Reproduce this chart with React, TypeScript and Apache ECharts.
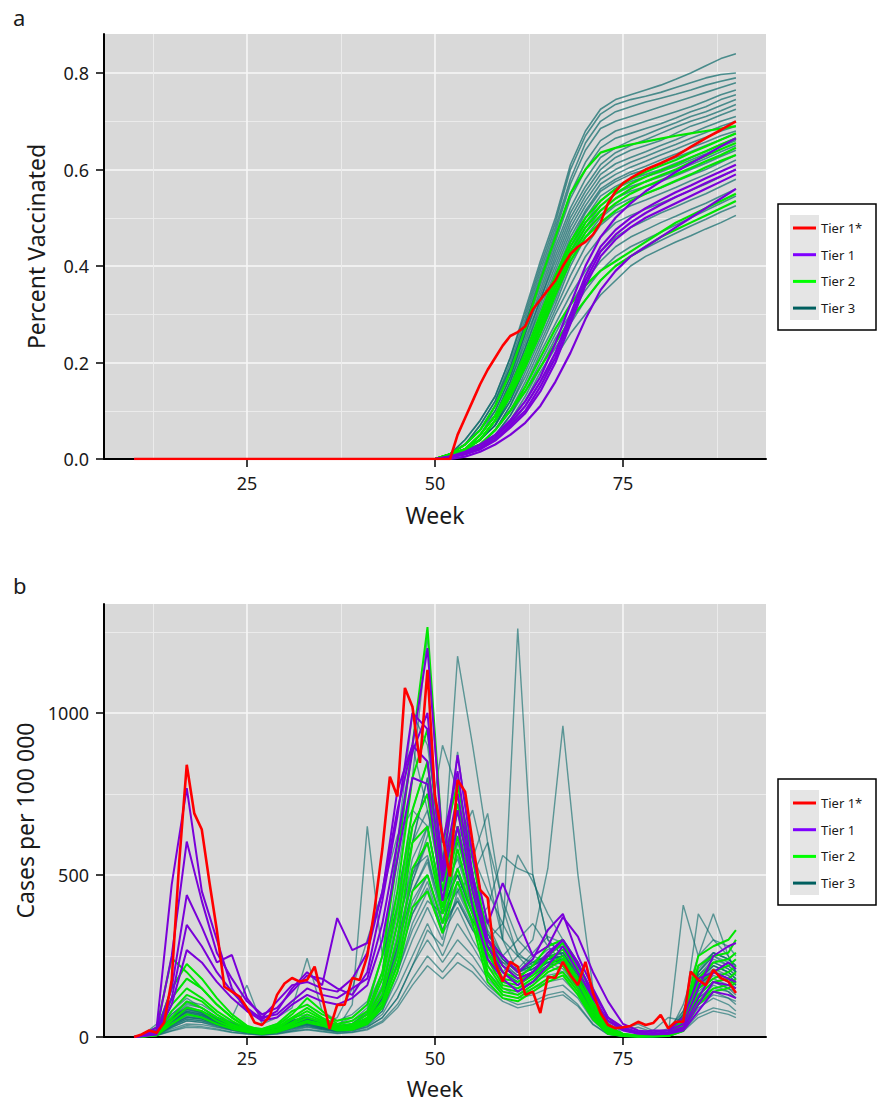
import React, { useEffect, useRef } from 'react';
import * as echarts from 'echarts';

// ---------- axis / legend definitions ----------
const X_TICKS = [25, 50, 75];
const X_MINOR = [12.5, 37.5, 62.5, 87.5];
const VAX_Y_TICKS = [0, 0.2, 0.4, 0.6, 0.8];
const VAX_Y_MINOR = [0.1, 0.3, 0.5, 0.7];
const CASE_Y_TICKS = [0, 500, 1000];
const CASE_Y_MINOR = [250, 750, 1250];
const TIERS = ['Tier 1*', 'Tier 1', 'Tier 2', 'Tier 3'];

// ---------- panel a: percent vaccinated ----------
const VAX_WEEKS = [10, 50, 52, 54, 56, 58, 60, 62, 64, 66, 68, 70, 72, 74, 76, 78, 80, 82, 84, 86, 88, 90];

const VAX_RED_WEEKS = [10, 52, 53, 54, 55, 56, 57, 58, 59, 60, 61, 62, 63, 64, 65, 66, 67, 68, 69, 70, 71, 72, 73, 74, 75, 76, 78, 80, 82, 84, 86, 88, 90];
const VAX_RED = [0, 0, .05, .085, .12, .155, .185, .21, .235, .255, .263, .275, .31, .33, .35, .37, .40, .425, .44, .45, .465, .49, .53, .555, .572, .582, .60, .613, .628, .647, .665, .682, .70];

const VAX_TIER1 = [
  [0, 0, .005, .015, .03, .05, .08, .12, .17, .24, .32, .40, .46, .50, .53, .555, .575, .595, .613, .63, .648, .665],
  [0, 0, .005, .012, .025, .045, .075, .11, .16, .22, .30, .38, .44, .475, .50, .52, .537, .553, .567, .582, .596, .61],
  [0, 0, .005, .01, .022, .04, .07, .10, .15, .21, .29, .37, .43, .465, .49, .51, .527, .543, .557, .572, .586, .60],
  [0, 0, .003, .01, .02, .038, .065, .095, .14, .20, .28, .36, .42, .455, .48, .50, .515, .53, .545, .56, .575, .59],
  [0, 0, 0, .005, .015, .03, .05, .075, .11, .16, .22, .29, .35, .39, .42, .44, .46, .48, .50, .52, .54, .56],
];

const VAX_TIER2 = [
  [0, 0, .01, .03, .06, .11, .18, .27, .37, .46, .55, .60, .635, .645, .652, .658, .664, .67, .675, .68, .685, .69],
  [0, 0, .01, .02, .05, .09, .15, .22, .30, .38, .45, .50, .535, .56, .58, .595, .608, .62, .635, .648, .662, .675],
  [0, 0, .01, .02, .05, .09, .14, .21, .29, .37, .44, .49, .525, .55, .57, .585, .598, .61, .625, .638, .652, .665],
  [0, 0, .01, .02, .04, .08, .14, .20, .28, .36, .43, .48, .515, .54, .56, .575, .588, .60, .615, .628, .642, .655],
  [0, 0, .01, .02, .04, .08, .13, .20, .27, .35, .42, .47, .505, .53, .55, .565, .578, .59, .603, .617, .63, .645],
  [0, 0, .01, .02, .04, .08, .13, .19, .26, .34, .41, .46, .49, .515, .535, .55, .563, .577, .59, .605, .618, .63],
  [0, 0, .005, .015, .03, .06, .10, .15, .21, .27, .32, .36, .39, .41, .43, .45, .47, .49, .505, .52, .535, .55],
  [0, 0, .005, .015, .03, .06, .10, .14, .19, .24, .29, .33, .37, .40, .42, .44, .46, .475, .49, .505, .52, .535],
];

const VAX_TIER3 = [
  [0, 0, .01, .04, .08, .13, .21, .31, .41, .50, .61, .68, .725, .745, .755, .765, .775, .787, .80, .815, .83, .84],
  [0, 0, .01, .04, .08, .13, .21, .30, .40, .49, .60, .67, .715, .735, .745, .752, .76, .77, .78, .79, .797, .80],
  [0, 0, .01, .03, .07, .12, .20, .29, .39, .48, .58, .655, .70, .72, .73, .74, .748, .756, .765, .775, .783, .79],
  [0, 0, .01, .03, .07, .12, .19, .28, .38, .47, .57, .64, .685, .70, .71, .72, .73, .74, .75, .76, .77, .78],
  [0, 0, .01, .03, .06, .11, .19, .28, .37, .46, .55, .615, .66, .68, .69, .70, .71, .72, .73, .742, .755, .765],
  [0, 0, .01, .03, .06, .11, .18, .27, .36, .45, .54, .60, .645, .665, .675, .685, .695, .707, .72, .73, .745, .755],
  [0, 0, .01, .03, .06, .10, .17, .26, .35, .44, .52, .58, .625, .645, .66, .672, .685, .697, .71, .72, .733, .745],
  [0, 0, .01, .02, .05, .10, .17, .26, .34, .43, .51, .565, .61, .635, .65, .662, .675, .688, .70, .71, .722, .735],
  [0, 0, .01, .02, .05, .09, .16, .25, .33, .42, .50, .555, .60, .625, .64, .65, .66, .675, .69, .70, .713, .725],
  [0, 0, .01, .02, .05, .09, .16, .24, .33, .41, .49, .545, .59, .612, .625, .637, .65, .662, .675, .688, .70, .71],
  [0, 0, .01, .02, .05, .09, .15, .23, .32, .40, .48, .535, .58, .60, .615, .627, .64, .652, .665, .677, .69, .70],
  [0, 0, .01, .02, .04, .08, .15, .23, .31, .39, .47, .525, .57, .59, .605, .617, .63, .642, .655, .667, .68, .69],
  [0, 0, .01, .02, .04, .08, .14, .22, .30, .38, .46, .515, .56, .58, .595, .607, .62, .632, .645, .657, .67, .68],
  [0, 0, .01, .02, .04, .08, .14, .21, .29, .37, .45, .51, .555, .575, .59, .60, .612, .625, .637, .65, .662, .675],
  [0, 0, .01, .02, .04, .07, .13, .20, .28, .36, .44, .50, .545, .565, .58, .59, .60, .613, .625, .638, .652, .665],
  [0, 0, .01, .02, .04, .07, .13, .20, .28, .35, .43, .49, .535, .56, .575, .585, .595, .607, .62, .633, .647, .66],
  [0, 0, .01, .02, .04, .07, .12, .19, .27, .34, .42, .48, .525, .55, .565, .575, .585, .597, .61, .623, .637, .65],
  [0, 0, .01, .02, .04, .07, .12, .19, .26, .33, .41, .47, .515, .54, .555, .565, .575, .587, .60, .613, .627, .64],
  [0, 0, .005, .02, .03, .06, .11, .18, .25, .32, .40, .46, .50, .525, .54, .55, .562, .575, .588, .60, .615, .63],
  [0, 0, .005, .02, .03, .06, .11, .17, .24, .31, .38, .44, .485, .51, .525, .537, .55, .563, .577, .59, .605, .62],
  [0, 0, .005, .015, .03, .06, .10, .16, .23, .30, .36, .42, .46, .49, .505, .518, .53, .543, .557, .57, .585, .60],
  [0, 0, .005, .015, .03, .05, .09, .15, .22, .28, .34, .39, .43, .46, .48, .495, .51, .523, .537, .55, .565, .58],
  [0, 0, .005, .015, .03, .05, .09, .14, .20, .26, .32, .37, .41, .44, .46, .475, .49, .503, .517, .53, .545, .56],
  [0, 0, .005, .01, .025, .05, .08, .13, .19, .25, .30, .35, .39, .42, .44, .455, .47, .485, .50, .515, .53, .545],
  [0, 0, .005, .01, .02, .045, .08, .12, .18, .23, .28, .33, .37, .40, .42, .437, .453, .468, .483, .497, .512, .525],
  [0, 0, .005, .01, .02, .04, .07, .11, .16, .21, .26, .30, .34, .37, .40, .42, .435, .45, .463, .477, .49, .505],
];

// ---------- panel b: cases per 100 000 ----------
const CASE_RED_FIRST_WEEK = 10;
const CASE_RED = [
  0, 8, 20, 13, 45, 176, 540, 840, 690, 640,
  480, 330, 155, 140, 125, 90, 45, 37, 63, 130,
  165, 182, 171, 176, 217, 124, 25, 99, 100, 182,
  176, 250, 400, 580, 803, 742, 1077, 1019, 846, 1133,
  742, 620, 495, 793, 757, 600, 454, 429, 228, 171,
  232, 217, 130, 140, 74, 186, 182, 232, 191, 160,
  232, 136, 74, 37, 27, 30, 34, 47, 37, 43,
  68, 27, 47, 47, 202, 176, 160, 207, 182, 171,
  136,
];

const CASE_WEEKS = [10, 11, 13, 15, 17, 19, 21, 23, 25, 27, 29, 31, 33, 35, 37, 39, 41, 43, 45, 47, 49, 51, 53, 55, 57, 59, 61, 63, 65, 67, 69, 71, 73, 75, 77, 79, 81, 83, 85, 87, 89, 90];

const CASE_TIER1 = [
  [0, 5, 30, 470, 768, 450, 300, 150, 80, 60, 110, 160, 170, 150, 140, 180, 260, 450, 700, 900, 1200, 600, 820, 500, 300, 220, 180, 200, 260, 300, 230, 120, 50, 25, 15, 20, 20, 60, 180, 200, 230, 210],
  [0, 5, 20, 250, 603, 420, 260, 180, 110, 70, 90, 140, 190, 180, 150, 130, 200, 420, 680, 1000, 950, 520, 870, 560, 350, 475, 360, 250, 280, 370, 310, 200, 110, 40, 20, 15, 20, 40, 150, 250, 280, 290],
  [0, 3, 15, 150, 438, 340, 230, 253, 120, 60, 70, 110, 150, 130, 120, 150, 180, 350, 600, 880, 1000, 500, 750, 480, 300, 250, 200, 240, 330, 380, 250, 150, 60, 30, 15, 10, 15, 30, 120, 200, 180, 170],
  [0, 2, 10, 120, 346, 280, 200, 140, 90, 55, 80, 150, 200, 160, 367, 268, 290, 444, 760, 900, 850, 480, 700, 450, 280, 200, 160, 200, 250, 300, 220, 140, 60, 25, 12, 10, 10, 25, 100, 170, 160, 150],
  [0, 2, 8, 100, 268, 230, 170, 120, 80, 50, 60, 100, 130, 110, 100, 120, 160, 300, 550, 800, 780, 420, 650, 400, 240, 180, 140, 170, 220, 280, 200, 120, 50, 20, 10, 8, 10, 20, 80, 140, 130, 120],
];

const CASE_TIER2 = [
  [0, 5, 30, 243, 200, 150, 100, 60, 30, 25, 40, 80, 100, 70, 50, 60, 100, 250, 550, 900, 1265, 600, 780, 550, 300, 200, 180, 220, 280, 300, 230, 130, 30, 10, 5, 5, 10, 60, 250, 280, 300, 330],
  [0, 3, 20, 150, 225, 180, 120, 70, 35, 20, 35, 70, 120, 80, 40, 50, 80, 200, 450, 800, 950, 500, 720, 500, 280, 180, 170, 200, 250, 290, 210, 110, 25, 8, 5, 5, 8, 50, 220, 250, 260, 300],
  [0, 2, 15, 120, 180, 150, 100, 60, 30, 20, 30, 60, 90, 60, 35, 40, 70, 180, 400, 700, 850, 450, 700, 480, 260, 170, 160, 190, 240, 270, 200, 100, 20, 8, 4, 4, 6, 40, 180, 230, 240, 260],
  [0, 2, 12, 100, 150, 120, 80, 50, 25, 15, 25, 55, 80, 55, 30, 35, 60, 150, 350, 650, 750, 420, 650, 450, 240, 160, 150, 180, 220, 250, 180, 90, 18, 6, 3, 3, 5, 35, 170, 200, 220, 240],
  [0, 2, 10, 80, 130, 110, 70, 40, 22, 15, 22, 45, 70, 50, 28, 30, 55, 130, 300, 600, 650, 400, 620, 420, 220, 150, 140, 170, 210, 240, 170, 80, 15, 5, 3, 3, 4, 30, 150, 180, 200, 220],
  [0, 1, 8, 60, 110, 90, 60, 35, 20, 12, 20, 40, 60, 45, 25, 28, 50, 110, 250, 520, 600, 380, 580, 400, 200, 140, 130, 160, 200, 220, 150, 70, 12, 5, 2, 2, 4, 25, 130, 170, 180, 200],
  [0, 1, 6, 50, 90, 80, 50, 30, 18, 10, 18, 35, 50, 40, 22, 25, 45, 100, 220, 450, 500, 350, 520, 380, 190, 130, 120, 150, 180, 200, 140, 60, 10, 4, 2, 2, 3, 20, 110, 150, 160, 180],
  [0, 1, 5, 40, 70, 60, 40, 25, 15, 10, 15, 30, 45, 35, 20, 22, 40, 90, 200, 400, 450, 320, 480, 350, 170, 120, 110, 140, 170, 190, 130, 55, 10, 3, 1, 2, 3, 18, 100, 140, 150, 170],
];

const CASE_TIER3 = [
  [0, 5, 20, 60, 90, 80, 60, 40, 30, 25, 40, 60, 70, 50, 40, 60, 100, 200, 400, 600, 800, 500, 650, 450, 350, 300, 1260, 500, 300, 250, 200, 100, 40, 20, 30, 15, 25, 80, 200, 250, 220, 200],
  [0, 3, 25, 80, 120, 90, 60, 45, 30, 20, 35, 50, 60, 45, 35, 50, 90, 250, 600, 900, 700, 500, 1175, 900, 600, 300, 200, 250, 280, 300, 220, 100, 25, 8, 3, 3, 8, 100, 250, 300, 280, 250],
  [0, 2, 15, 50, 80, 70, 50, 30, 20, 15, 25, 40, 50, 35, 25, 35, 70, 150, 350, 500, 600, 400, 500, 380, 250, 200, 250, 300, 520, 960, 500, 150, 30, 10, 5, 5, 10, 60, 180, 220, 200, 180],
  [0, 2, 10, 40, 60, 55, 40, 25, 18, 12, 20, 35, 45, 30, 25, 100, 650, 250, 400, 650, 750, 450, 550, 400, 300, 250, 200, 230, 250, 220, 180, 80, 20, 5, 2, 2, 5, 50, 150, 200, 180, 160],
  [0, 3, 20, 70, 110, 100, 70, 45, 30, 20, 30, 50, 60, 45, 30, 40, 80, 200, 500, 800, 1240, 550, 800, 500, 300, 220, 180, 200, 230, 250, 180, 90, 40, 6, 3, 3, 6, 70, 200, 260, 240, 220],
  [0, 2, 15, 60, 100, 90, 60, 40, 25, 18, 28, 45, 55, 40, 28, 35, 60, 150, 350, 600, 800, 480, 880, 550, 350, 250, 200, 220, 250, 260, 190, 90, 20, 5, 2, 2, 5, 60, 180, 230, 210, 190],
  [0, 2, 12, 50, 80, 70, 50, 35, 22, 15, 25, 40, 50, 35, 25, 30, 50, 120, 280, 450, 550, 380, 450, 350, 400, 560, 520, 500, 300, 250, 180, 80, 50, 25, 40, 20, 60, 50, 380, 300, 250, 200],
  [0, 1, 10, 40, 70, 60, 45, 30, 20, 12, 20, 35, 45, 30, 22, 28, 45, 100, 250, 400, 500, 350, 420, 330, 280, 250, 300, 350, 280, 230, 160, 70, 15, 4, 2, 2, 4, 40, 130, 170, 150, 140],
  [0, 1, 8, 35, 60, 55, 40, 25, 15, 10, 18, 30, 40, 28, 20, 25, 40, 80, 180, 300, 400, 300, 600, 700, 500, 300, 250, 200, 220, 200, 140, 60, 12, 4, 1, 1, 4, 35, 120, 160, 140, 120],
  [0, 2, 12, 55, 90, 75, 55, 35, 22, 15, 25, 45, 60, 40, 28, 35, 60, 130, 300, 500, 650, 420, 520, 400, 300, 220, 180, 200, 240, 260, 200, 100, 60, 8, 3, 3, 8, 70, 200, 250, 230, 210],
  [0, 1, 6, 30, 50, 45, 35, 22, 14, 10, 15, 25, 35, 25, 18, 22, 35, 70, 150, 250, 350, 250, 350, 280, 200, 150, 130, 150, 170, 180, 130, 55, 12, 3, 1, 1, 3, 30, 100, 130, 120, 100],
  [0, 1, 5, 25, 40, 38, 30, 20, 12, 8, 12, 20, 30, 22, 15, 18, 30, 60, 120, 220, 300, 230, 300, 250, 180, 130, 120, 130, 150, 160, 120, 50, 10, 3, 1, 1, 3, 25, 90, 120, 100, 80],
  [0, 2, 15, 60, 90, 80, 55, 40, 25, 18, 30, 50, 60, 45, 30, 40, 70, 160, 380, 600, 700, 450, 650, 550, 690, 400, 250, 230, 250, 240, 180, 80, 18, 5, 2, 2, 5, 55, 170, 210, 190, 170],
  [0, 1, 10, 45, 75, 65, 45, 30, 20, 14, 22, 38, 48, 35, 25, 30, 50, 110, 260, 420, 500, 350, 480, 380, 300, 350, 562, 480, 380, 300, 200, 90, 20, 5, 2, 2, 5, 45, 160, 200, 180, 160],
  [0, 2, 12, 50, 85, 75, 50, 35, 22, 15, 25, 40, 55, 38, 28, 32, 55, 120, 280, 480, 600, 400, 500, 380, 280, 220, 180, 200, 230, 240, 170, 80, 18, 5, 2, 2, 5, 407, 250, 380, 250, 200],
  [0, 3, 40, 120, 180, 150, 100, 60, 160, 40, 60, 90, 243, 80, 50, 70, 110, 250, 450, 650, 750, 480, 600, 450, 300, 230, 190, 210, 240, 250, 190, 90, 22, 6, 3, 3, 6, 80, 220, 260, 240, 220],
  [0, 1, 8, 35, 55, 50, 38, 25, 15, 10, 16, 28, 38, 26, 18, 22, 38, 80, 200, 350, 450, 320, 400, 300, 220, 170, 150, 170, 190, 200, 150, 65, 14, 4, 1, 1, 4, 35, 120, 150, 140, 120],
  [0, 2, 15, 60, 95, 80, 55, 38, 25, 18, 28, 48, 58, 42, 30, 38, 70, 200, 600, 1000, 900, 550, 700, 500, 320, 240, 200, 220, 250, 260, 190, 85, 45, 6, 2, 2, 6, 65, 190, 240, 220, 200],
  [0, 1, 7, 30, 50, 45, 32, 22, 14, 9, 14, 24, 32, 24, 16, 20, 32, 60, 120, 220, 330, 280, 450, 500, 600, 420, 300, 250, 230, 210, 150, 65, 15, 4, 1, 1, 4, 30, 110, 140, 120, 110],
  [0, 2, 10, 45, 70, 62, 45, 30, 20, 13, 20, 35, 45, 32, 22, 28, 45, 100, 230, 380, 480, 330, 420, 330, 260, 200, 170, 190, 220, 230, 170, 75, 16, 5, 2, 2, 5, 45, 150, 190, 170, 150],
  [0, 1, 5, 20, 35, 32, 25, 15, 10, 6, 10, 18, 24, 18, 12, 15, 25, 50, 100, 180, 250, 200, 260, 220, 160, 120, 100, 110, 130, 140, 100, 40, 8, 2, 1, 1, 2, 20, 70, 90, 80, 70],
  [0, 2, 14, 55, 85, 72, 50, 35, 22, 16, 26, 44, 52, 38, 26, 32, 55, 130, 320, 550, 650, 420, 560, 420, 300, 240, 200, 220, 260, 280, 200, 95, 22, 6, 3, 3, 6, 60, 190, 230, 210, 190],
  [0, 2, 12, 50, 75, 65, 48, 32, 22, 15, 24, 40, 50, 36, 26, 34, 60, 140, 350, 520, 560, 380, 480, 360, 260, 200, 170, 190, 220, 240, 170, 80, 20, 6, 3, 3, 6, 55, 170, 220, 200, 180],
  [0, 1, 9, 40, 65, 58, 42, 28, 18, 12, 20, 32, 42, 30, 22, 28, 50, 120, 300, 480, 620, 900, 760, 500, 330, 250, 200, 210, 240, 250, 180, 80, 18, 5, 2, 2, 5, 50, 160, 200, 190, 170],
  [0, 1, 7, 32, 55, 50, 36, 24, 15, 10, 16, 28, 36, 26, 18, 24, 40, 90, 200, 330, 420, 380, 520, 560, 450, 350, 260, 220, 240, 230, 160, 70, 14, 4, 1, 1, 4, 35, 130, 170, 150, 130],
  [0, 2, 18, 70, 105, 90, 62, 42, 28, 20, 30, 52, 64, 46, 32, 42, 75, 180, 420, 700, 850, 520, 700, 480, 320, 240, 200, 230, 270, 280, 200, 95, 25, 7, 3, 3, 7, 70, 210, 260, 240, 220],
  [0, 1, 4, 18, 30, 28, 22, 14, 9, 6, 9, 16, 22, 16, 11, 14, 22, 45, 90, 160, 220, 180, 230, 200, 150, 110, 90, 100, 120, 130, 95, 38, 8, 2, 1, 1, 2, 18, 60, 80, 70, 60],
  [0, 2, 14, 58, 88, 76, 52, 36, 24, 17, 28, 46, 56, 40, 60, 150, 300, 450, 620, 700, 650, 400, 500, 380, 280, 220, 190, 210, 240, 250, 180, 85, 20, 6, 2, 2, 6, 58, 180, 220, 200, 180],
  [0, 1, 9, 38, 62, 56, 40, 27, 17, 11, 18, 31, 40, 29, 20, 26, 44, 95, 230, 380, 460, 330, 430, 340, 270, 230, 210, 260, 310, 290, 200, 90, 18, 5, 2, 2, 5, 42, 140, 180, 160, 150],
  [0, 2, 11, 48, 78, 68, 48, 33, 21, 14, 23, 38, 48, 34, 24, 30, 52, 115, 270, 450, 540, 360, 460, 360, 280, 220, 180, 200, 230, 240, 170, 78, 18, 5, 2, 2, 5, 48, 160, 200, 180, 160],
];

// ---------- styling ----------
const FONT = "'Noto Sans', 'Open Sans', sans-serif";
const COLORS: Record<string, string> = {
  'Tier 1*': '#ff0000',
  'Tier 1': '#7a00d9',
  'Tier 2': '#00e600',
  'Tier 3': '#0b6a6a',
};
const LEGEND_COLORS: Record<string, string> = {
  'Tier 1*': '#ff0000',
  'Tier 1': '#7f00ff',
  'Tier 2': '#00ff00',
  'Tier 3': '#005f5f',
};

function pair(weeks: number[], vals: number[]) {
  const n = Math.min(weeks.length, vals.length);
  const out: number[][] = [];
  for (let i = 0; i < n; i++) out.push([weeks[i], vals[i]]);
  return out;
}

function lineSeries(name: string, data: number[][], axis: number, width: number, opacity: number, z: number) {
  return {
    type: 'line',
    name,
    data,
    xAxisIndex: axis * 2,
    yAxisIndex: axis * 2,
    showSymbol: false,
    symbol: 'none',
    silent: true,
    animation: false,
    z,
    itemStyle: { color: COLORS[name] },
    lineStyle: { color: COLORS[name], width, opacity },
    emphasis: { disabled: true },
  };
}

function xAxes(gridIndex: number, nameGap: number, labelMargin: number, nameSize: number) {
  return [
    {
      type: 'value', gridIndex, min: 6, max: 94, position: 'bottom',
      name: 'Week', nameLocation: 'middle', nameGap,
      nameTextStyle: { fontSize: nameSize, color: '#1a1a1a', fontFamily: FONT },
      axisLine: { show: true, onZero: false, lineStyle: { color: '#000', width: 2 } },
      axisTick: { show: true, length: 8, customValues: X_TICKS, lineStyle: { color: '#000', width: 1.5 } },
      axisLabel: { customValues: X_TICKS, fontSize: 18, margin: labelMargin, color: '#1a1a1a', fontFamily: FONT },
      splitLine: { show: true, lineStyle: { color: '#f7f7f7', width: 1.6 } },
    },
    {
      type: 'value', gridIndex, min: 6, max: 94, position: 'bottom',
      axisLine: { show: false },
      axisTick: { show: false, customValues: X_MINOR },
      axisLabel: { show: false, customValues: X_MINOR },
      splitLine: { show: true, lineStyle: { color: '#ebebeb', width: 1 } },
    },
  ];
}

function yAxes(gridIndex: number, max: number, ticks: number[], minor: number[], name: string, nameGap: number, fmt: (v: number) => string) {
  return [
    {
      type: 'value', gridIndex, min: 0, max, position: 'left',
      name, nameLocation: 'middle', nameGap,
      nameTextStyle: { fontSize: 23, color: '#1a1a1a', fontFamily: FONT },
      axisLine: { show: true, onZero: false, lineStyle: { color: '#000', width: 2 } },
      axisTick: { show: true, length: 8, customValues: ticks, lineStyle: { color: '#000', width: 1.5 } },
      axisLabel: { customValues: ticks, fontSize: 18, margin: 15, color: '#1a1a1a', fontFamily: FONT, formatter: fmt },
      splitLine: { show: true, lineStyle: { color: '#f7f7f7', width: 1.6 } },
    },
    {
      type: 'value', gridIndex, min: 0, max, position: 'left',
      axisLine: { show: false },
      axisTick: { show: false, customValues: minor },
      axisLabel: { show: false, customValues: minor },
      splitLine: { show: true, lineStyle: { color: '#ebebeb', width: 1 } },
    },
  ];
}

function legendFor(top: number) {
  return {
    orient: 'vertical', left: 793, top, itemWidth: 23, itemHeight: 3, itemGap: 10.7,
    icon: 'rect', selectedMode: false, padding: 0,
    textStyle: { fontSize: 13, lineHeight: 16, color: '#1a1a1a', fontFamily: FONT },
    data: TIERS.map((t) => ({ name: t, itemStyle: { color: LEGEND_COLORS[t], opacity: 1 } })),
  };
}

function legendBox(top: number) {
  return [
    { type: 'rect', shape: { x: 778, y: top, width: 98, height: 126 }, style: { fill: '#ffffff', stroke: '#000000', lineWidth: 1.5 }, z: 0 },
    { type: 'rect', shape: { x: 790, y: top + 11, width: 29, height: 105 }, style: { fill: '#e5e5e5' }, z: 1 },
  ];
}

function buildOption() {
  const series: any[] = [];
  // panel a
  VAX_TIER3.forEach((v) => series.push(lineSeries('Tier 3', pair(VAX_WEEKS, v), 0, 1.6, 0.7, 2)));
  VAX_TIER2.forEach((v) => series.push(lineSeries('Tier 2', pair(VAX_WEEKS, v), 0, 2.2, 1, 3)));
  VAX_TIER1.forEach((v) => series.push(lineSeries('Tier 1', pair(VAX_WEEKS, v), 0, 2.2, 1, 4)));
  series.push(lineSeries('Tier 1*', pair(VAX_RED_WEEKS, VAX_RED), 0, 2.6, 1, 5));
  // panel b
  CASE_TIER3.forEach((v) => series.push(lineSeries('Tier 3', pair(CASE_WEEKS, v), 1, 1.4, 0.62, 2)));
  CASE_TIER2.forEach((v) => series.push(lineSeries('Tier 2', pair(CASE_WEEKS, v), 1, 2, 1, 3)));
  CASE_TIER1.forEach((v) => series.push(lineSeries('Tier 1', pair(CASE_WEEKS, v), 1, 2, 1, 4)));
  const redWeeks = CASE_RED.map((_, i) => CASE_RED_FIRST_WEEK + i);
  series.push(lineSeries('Tier 1*', pair(redWeeks, CASE_RED), 1, 2.6, 1, 5));

  return {
    animation: false,
    backgroundColor: '#ffffff',
    textStyle: { fontFamily: FONT },
    grid: [
      { left: 104, top: 34, width: 662, height: 425, show: true, backgroundColor: '#d9d9d9', borderWidth: 0, containLabel: false },
      { left: 104, top: 604, width: 662, height: 433, show: true, backgroundColor: '#d9d9d9', borderWidth: 0, containLabel: false },
    ],
    xAxis: [...xAxes(0, 44, 15, 23), ...xAxes(1, 40, 12, 22)],
    yAxis: [
      ...yAxes(0, 0.881, VAX_Y_TICKS, VAX_Y_MINOR, 'Percent Vaccinated', 57, (v: number) => v.toFixed(1)),
      ...yAxes(1, 1336, CASE_Y_TICKS, CASE_Y_MINOR, 'Cases per 100 000', 62, (v: number) => String(Math.round(v))),
    ],
    legend: [legendFor(220), legendFor(795)],
    graphic: [
      ...legendBox(204),
      ...legendBox(779),
      { type: 'text', left: 13, top: 6, style: { text: 'a', fontSize: 22, fill: '#1a1a1a', fontFamily: FONT } },
      { type: 'text', left: 13, top: 574, style: { text: 'b', fontSize: 22, fill: '#1a1a1a', fontFamily: FONT } },
    ],
    series,
  };
}

export default function App() {
  const ref = useRef<HTMLDivElement>(null);
  useEffect(() => {
    if (!ref.current) return;
    const chart = echarts.init(ref.current, null, { renderer: 'svg' });
    chart.setOption(buildOption() as any);
    return () => chart.dispose();
  }, []);
  return (
    <div
      ref={ref}
      style={{ position: 'absolute', left: 0, top: 0, width: 883, height: 1103, background: '#ffffff' }}
    />
  );
}
